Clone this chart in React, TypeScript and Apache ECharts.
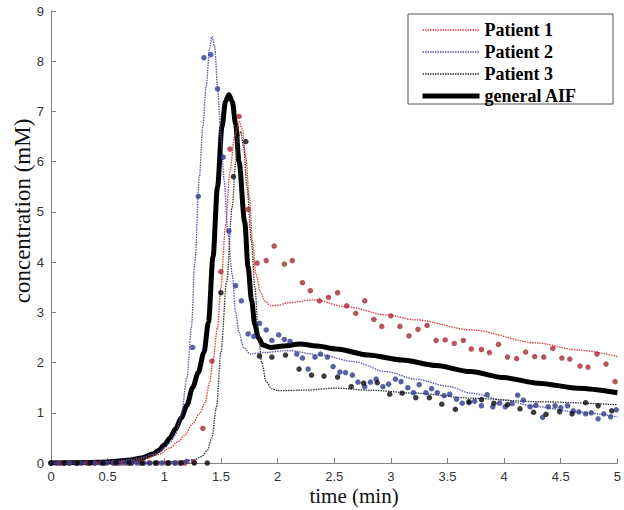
import React, { useEffect, useRef } from "react";
import * as echarts from "echarts";

const xTicks = [0, 0.5, 1, 1.5, 2, 2.5, 3, 3.5, 4, 4.5, 5];
const yTicks = [0, 1, 2, 3, 4, 5, 6, 7, 8, 9];
const legendNames = ["Patient 1", "Patient 2", "Patient 3", "general AIF"];

// fitted curves [time (min), concentration (mM)]
const fitP1 = [
  [0, 0], [0.5, 0.01], [0.7, 0.04], [0.85, 0.1], [0.95, 0.17], [1.05, 0.3], [1.12, 0.42], [1.18, 0.55],
  [1.25, 0.78], [1.31, 0.98], [1.36, 1.2], [1.4, 1.6], [1.43, 2.05], [1.47, 2.7], [1.5, 3.5], [1.54, 4.7],
  [1.58, 5.8], [1.62, 6.5], [1.66, 6.8], [1.69, 6.65], [1.72, 6.1], [1.75, 5.3], [1.78, 4.4], [1.81, 3.75],
  [1.85, 3.4], [1.89, 3.22], [1.94, 3.13], [2.0, 3.14], [2.09, 3.19], [2.32, 3.25], [2.61, 3.11],
  [2.96, 2.95], [3.22, 2.85], [3.71, 2.65], [4.29, 2.39], [4.65, 2.25], [5.0, 2.12],
];
const fitP2 = [
  [0, 0], [0.4, 0.01], [0.6, 0.04], [0.7, 0.07], [0.8, 0.11], [0.9, 0.17], [0.95, 0.22], [1.0, 0.3],
  [1.05, 0.4], [1.1, 0.56], [1.15, 0.95], [1.2, 1.7], [1.24, 2.7], [1.27, 4.0], [1.31, 5.7], [1.34, 6.7],
  [1.37, 7.5], [1.4, 8.25], [1.42, 8.49], [1.445, 8.3], [1.47, 7.5], [1.5, 6.5], [1.53, 5.6], [1.56, 4.6],
  [1.6, 3.75], [1.63, 3.0], [1.66, 2.6], [1.7, 2.3], [1.76, 2.17], [1.88, 2.2], [2.09, 2.24], [2.38, 2.15],
  [2.67, 2.02], [2.96, 1.82], [3.22, 1.67], [3.5, 1.53], [3.71, 1.39], [4.0, 1.25], [4.29, 1.12],
  [4.65, 1.01], [5.0, 0.92],
];
const fitP3 = [
  [0, 0], [0.8, 0.0], [1.0, 0.02], [1.1, 0.03], [1.2, 0.05], [1.27, 0.07], [1.33, 0.13], [1.38, 0.25],
  [1.42, 0.5], [1.46, 1.1], [1.5, 2.2], [1.55, 3.6], [1.6, 5.1], [1.63, 6.0], [1.65, 6.45], [1.675, 6.6],
  [1.7, 6.3], [1.73, 5.5], [1.77, 4.4], [1.8, 3.5], [1.83, 2.6], [1.86, 2.0], [1.9, 1.62], [1.95, 1.48],
  [2.0, 1.44], [2.23, 1.45], [2.52, 1.49], [2.81, 1.45], [3.22, 1.39], [3.71, 1.29], [4.29, 1.22],
  [5.0, 1.16],
];
const fitAIF = [
  [0, 0], [0.3, 0.01], [0.5, 0.02], [0.6, 0.04], [0.7, 0.06], [0.8, 0.1], [0.9, 0.18], [0.95, 0.25],
  [1.0, 0.36], [1.05, 0.5], [1.1, 0.68], [1.15, 0.9], [1.2, 1.15], [1.25, 1.5], [1.3, 1.8], [1.35, 2.2],
  [1.39, 2.8], [1.43, 4.1], [1.47, 5.5], [1.51, 6.7], [1.54, 7.2], [1.57, 7.33], [1.6, 7.2], [1.63, 6.75],
  [1.66, 6.0], [1.71, 4.8], [1.74, 3.9], [1.77, 3.25], [1.8, 2.75], [1.83, 2.5], [1.87, 2.35],
  [1.94, 2.3], [2.05, 2.33], [2.2, 2.37], [2.35, 2.33], [2.52, 2.27], [2.8, 2.15], [3.1, 2.05],
  [3.4, 1.94], [3.7, 1.82], [4.0, 1.7], [4.3, 1.59], [4.65, 1.49], [5.0, 1.4],
];

// measured samples
const dataP1 = [
  [0, 0], [0.08, 0], [0.16, 0], [0.24, 0], [0.31, 0], [0.39, 0], [0.47, 0], [0.55, 0], [0.63, 0],
  [0.71, 0], [0.79, 0], [0.87, 0], [0.94, 0], [1.02, 0], [1.1, 0], [1.18, 0], [1.26, 0.02],
  [1.34, 0.69], [1.42, 2.03], [1.5, 3.81], [1.58, 6.25], [1.66, 6.9], [1.74, 5.05], [1.82, 3.98],
  [1.9, 4.03], [1.97, 4.32], [2.06, 3.96], [2.13, 4.03], [2.22, 3.59], [2.29, 3.43], [2.37, 3.23],
  [2.45, 3.3], [2.53, 3.39], [2.61, 3.13], [2.69, 2.98], [2.77, 3.23], [2.85, 2.86], [2.92, 2.72],
  [3.0, 2.93], [3.08, 2.72], [3.16, 2.53], [3.24, 2.66], [3.32, 2.74], [3.4, 2.44], [3.48, 2.45],
  [3.56, 2.38], [3.64, 2.44], [3.71, 2.27], [3.8, 2.26], [3.87, 2.2], [3.95, 2.36], [4.03, 2.11],
  [4.11, 2.08], [4.19, 2.21], [4.27, 2.12], [4.35, 2.11], [4.43, 2.28], [4.51, 2.09], [4.58, 2.07],
  [4.67, 1.93], [4.74, 1.91], [4.82, 2.17], [4.9, 1.97], [4.98, 1.62],
];
const dataP2 = [
  [0, 0], [0.05, 0], [0.11, 0], [0.16, 0], [0.22, 0], [0.27, 0], [0.33, 0], [0.38, 0], [0.44, 0],
  [0.49, 0], [0.55, 0], [0.6, 0], [0.66, 0], [0.71, 0], [0.76, 0], [0.82, 0], [0.87, 0], [0.93, 0],
  [0.98, 0], [1.04, 0], [1.09, 0], [1.14, 0], [1.2, 0.03],
  [1.25, 2.3], [1.3, 5.31], [1.35, 8.07], [1.41, 8.13], [1.47, 7.45], [1.52, 6.09], [1.57, 4.62],
  [1.63, 3.53], [1.68, 3.23], [1.74, 2.57], [1.79, 2.52], [1.84, 2.78], [1.9, 2.65], [1.95, 2.44],
  [2.01, 2.55], [2.06, 2.46], [2.11, 2.42], [2.17, 2.17], [2.22, 2.09], [2.27, 1.87], [2.33, 2.11],
  [2.38, 2.17], [2.44, 2.11], [2.49, 1.92], [2.55, 1.81], [2.6, 1.8], [2.66, 1.75], [2.71, 1.61],
  [2.77, 1.52], [2.82, 1.61], [2.87, 1.67], [2.93, 1.52], [2.98, 1.57], [3.04, 1.67], [3.09, 1.62],
  [3.15, 1.5], [3.2, 1.4], [3.25, 1.56], [3.31, 1.4], [3.36, 1.48], [3.41, 1.4], [3.47, 1.34],
  [3.52, 1.37], [3.58, 1.27], [3.63, 1.19], [3.69, 1.2], [3.74, 1.23], [3.8, 1.14], [3.85, 1.36],
  [3.9, 1.12], [3.96, 1.19], [4.01, 1.12], [4.07, 1.18], [4.12, 1.35], [4.17, 1.25], [4.23, 1.12],
  [4.28, 1.15], [4.34, 0.91], [4.39, 1.12], [4.45, 1.14], [4.5, 1.1], [4.56, 1.14], [4.61, 1.04],
  [4.66, 1.02], [4.72, 0.98], [4.77, 1.0], [4.83, 0.88], [4.88, 0.98], [4.94, 0.92], [4.99, 1.06],
];
const dataP3 = [
  [0, 0], [0.115, 0], [0.23, 0], [0.345, 0], [0.46, 0], [0.575, 0], [0.69, 0], [0.805, 0], [0.92, 0],
  [1.035, 0], [1.15, 0], [1.265, 0], [1.38, 0],
  [1.5, 3.39], [1.61, 5.7], [1.72, 6.4], [1.84, 2.13], [1.95, 2.11], [2.07, 2.15], [2.19, 1.87],
  [2.3, 1.75], [2.41, 1.73], [2.53, 1.71], [2.65, 1.52], [2.76, 1.59], [2.88, 1.6], [2.99, 1.37],
  [3.1, 1.39], [3.22, 1.3], [3.34, 1.3], [3.45, 1.17], [3.57, 1.07], [3.69, 1.22], [3.8, 1.26],
  [3.91, 1.19], [4.03, 1.16], [4.14, 1.08], [4.26, 1.01], [4.37, 0.97], [4.49, 1.02], [4.6, 0.98],
  [4.72, 1.2], [4.83, 1.14], [4.95, 1.04],
];

const AXIS_COLOR = "#7f7f7f";
const SERIF = "'Liberation Serif', 'DejaVu Serif', serif";
const SANS = "'Liberation Sans', Arial, sans-serif";

export default function App() {
  const ref = useRef<HTMLDivElement>(null);
  useEffect(() => {
    if (!ref.current) return;
    const chart = echarts.init(ref.current, undefined, { renderer: "svg" });
    const fitLine = (name: string, data: number[][], color: string, width: number, type: any, z: number) => ({
      name,
      type: "line",
      data,
      symbol: "none",
      smooth: 0.3,
      smoothMonotone: "x",
      lineStyle: { color, width, type },
      itemStyle: { color, opacity: 0 },
      z,
    });
    const dots = (name: string, data: number[][], color: string) => ({
      name,
      type: "scatter",
      data,
      symbol: "circle",
      symbolSize: 5.5,
      itemStyle: { color },
      z: 4,
    });
    chart.setOption({
      animation: false,
      backgroundColor: "#ffffff",
      grid: { left: 51, right: 0, top: 11, bottom: 47, containLabel: false },
      xAxis: {
        type: "value",
        min: xTicks[0],
        max: xTicks[xTicks.length - 1],
        interval: 0.5,
        axisLine: { show: true, lineStyle: { color: AXIS_COLOR, width: 1 } },
        axisTick: { show: true, inside: true, length: 5, lineStyle: { color: AXIS_COLOR } },
        axisLabel: { color: "#333", fontFamily: SANS, fontSize: 13, margin: 7, showMaxLabel: true },
        splitLine: { show: false },
      },
      yAxis: {
        type: "value",
        min: yTicks[0],
        max: yTicks[yTicks.length - 1],
        interval: 1,
        axisLine: { show: true, lineStyle: { color: AXIS_COLOR, width: 1 } },
        axisTick: { show: true, inside: true, length: 5, lineStyle: { color: AXIS_COLOR } },
        axisLabel: { color: "#333", fontFamily: SANS, fontSize: 13, margin: 7 },
        splitLine: { show: false },
      },
      legend: {
        data: legendNames.map((n) =>
          n === "general AIF" ? { name: n, lineStyle: { width: 5 } } : { name: n, lineStyle: { width: 1.3 } }
        ),
        orient: "vertical",
        left: 420,
        top: 21,
        padding: 0,
        itemWidth: 57,
        itemHeight: 14,
        itemGap: 4,
        itemStyle: { opacity: 0 },
        textStyle: { fontFamily: SERIF, fontWeight: "bold", fontSize: 18, color: "#000" },
        z: 10,
      },
      graphic: [
        {
          type: "rect",
          z: 5,
          shape: { x: 408, y: 14, width: 205, height: 90 },
          style: { fill: "#ffffff", stroke: "#555555", lineWidth: 1 },
        },
        {
          type: "text",
          x: 22,
          y: 211,
          rotation: Math.PI / 2,
          style: {
            text: "concentration (mM)",
            font: `23px ${SERIF}`,
            fill: "#111",
            textAlign: "center",
            textVerticalAlign: "middle",
          },
        },
        {
          type: "text",
          x: 354,
          y: 496,
          style: {
            text: "time (min)",
            font: `21px ${SERIF}`,
            fill: "#111",
            textAlign: "center",
            textVerticalAlign: "middle",
          },
        },
      ],
      series: [
        fitLine("general AIF", fitAIF, "#000000", 5, "solid", 2),
        fitLine("Patient 1", fitP1, "#e03a3a", 1.3, [1.5, 1], 3),
        fitLine("Patient 2", fitP2, "#5555b5", 1.3, [1.5, 1], 3),
        fitLine("Patient 3", fitP3, "#333333", 1.3, [1.5, 1], 3),
        dots("Patient 1 data", dataP1, "#a52a33"),
        dots("Patient 2 data", dataP2, "#2f3a8f"),
        dots("Patient 3 data", dataP3, "#0a0a0a"),
      ],
    });
    return () => chart.dispose();
  }, []);
  return (
    <div
      ref={ref}
      style={{ position: "fixed", left: 0, top: 0, width: 624, height: 510, background: "#fff" }}
    />
  );
}
